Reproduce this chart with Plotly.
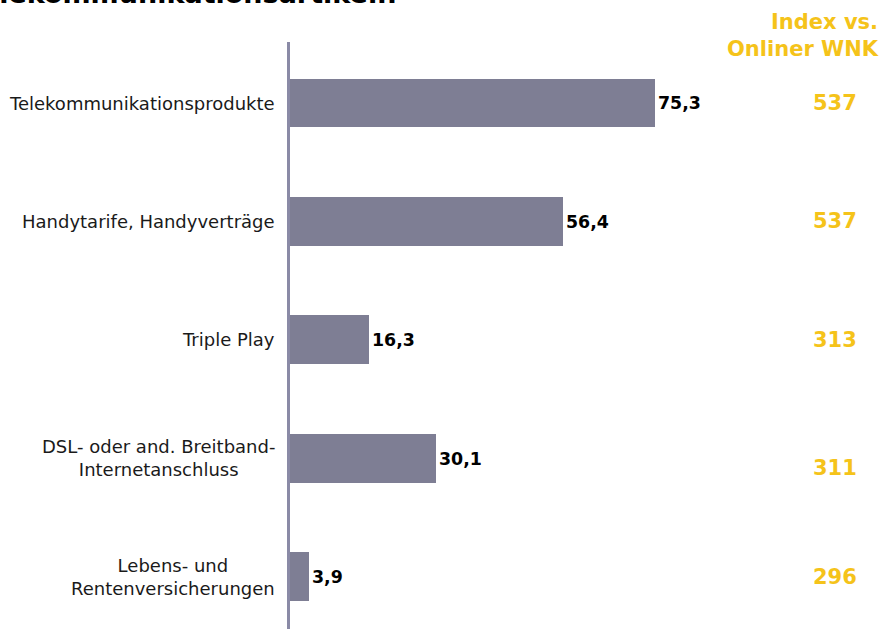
import plotly.graph_objects as go

# Categories (top to bottom), shares in percent and index vs. online population
categories = [
    "Telekommunikationsprodukte",
    "Handytarife, Handyverträge",
    "Triple Play",
    "DSL- oder and. Breitband-<br>Internetanschluss",
    "Lebens- und<br>Rentenversicherungen",
]
shares = [75.3, 56.4, 16.3, 30.1, 3.9]
index_values = [537, 537, 313, 311, 296]

title_text = "Telekommunikationsartikeln"
index_header = "Index vs.<br>Onliner WNK"

BAR_COLOR = "#7e7e94"
AXIS_COLOR = "#8a8aa6"
INDEX_COLOR = "#f5c31a"
FONT = "DejaVu Sans"

W, H = 884, 629
M_LEFT, M_TOP = 290, 42
plot_w = W - M_LEFT
plot_h = H - M_TOP
px_per_unit = 4.847
x_max = plot_w / px_per_unit

fig = go.Figure()
fig.add_trace(go.Bar(
    x=shares,
    y=categories,
    orientation="h",
    width=0.413,
    marker=dict(color=BAR_COLOR, line=dict(width=0)),
    texttemplate="%{x:.1f}",
    textposition="outside",
    textfont=dict(family=FONT, size=17.4, color="black", weight="bold"),
    cliponaxis=False,
    hoverinfo="skip",
))

annotations = []
# Category labels, centred line by line, right edge near the axis
for cat in categories:
    annotations.append(dict(
        x=0, y=cat, xref="x", yref="y",
        text=cat, showarrow=False,
        xanchor="right", yanchor="middle", align="center",
        xshift=-13,
        font=dict(family=FONT, size=18, color="#1a1a1a"),
    ))

# Index column; the two-line row sits a little lower
index_yshift = {3: -10}
for i, (cat, val) in enumerate(zip(categories, index_values)):
    annotations.append(dict(
        x=(835 - M_LEFT) / plot_w, y=cat, xref="paper", yref="y",
        text=str(val), showarrow=False,
        xanchor="center", yanchor="middle",
        yshift=index_yshift.get(i, 0),
        font=dict(family=FONT, size=21, color=INDEX_COLOR, weight="bold"),
    ))

annotations.append(dict(
    x=1, xshift=-3, y=1 + (M_TOP - 36) / plot_h, xref="paper", yref="paper",
    text=index_header, showarrow=False,
    xanchor="right", yanchor="middle", align="right",
    font=dict(family=FONT, size=21, color=INDEX_COLOR, weight="bold"),
))

annotations.append(dict(
    x=(398 - M_LEFT) / plot_w, y=1 + (M_TOP - 11) / plot_h,
    xref="paper", yref="paper",
    text=title_text, showarrow=False,
    xanchor="right", yanchor="bottom",
    font=dict(family=FONT, size=27, color="black", weight="bold"),
))

fig.update_layout(
    width=W, height=H,
    margin=dict(l=M_LEFT, r=0, t=M_TOP, b=0, autoexpand=False),
    paper_bgcolor="white", plot_bgcolor="white",
    separators=",.",
    showlegend=False,
    bargap=0,
    annotations=annotations,
    xaxis=dict(range=[0, x_max], visible=False, fixedrange=True),
    yaxis=dict(
        type="category",
        range=[4.44, -0.515],
        showticklabels=False,
        showgrid=False,
        zeroline=False,
        ticks="",
        showline=True,
        linecolor=AXIS_COLOR,
        linewidth=3,
    ),
)

fig.write_html("out.html")
